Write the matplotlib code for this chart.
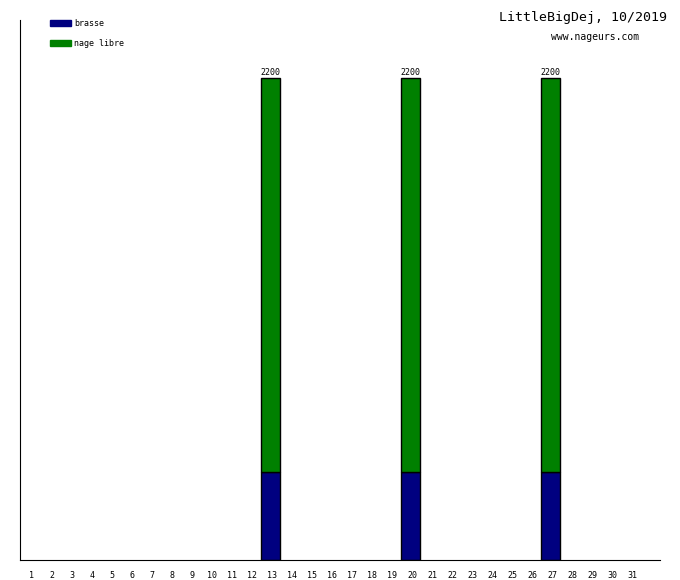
import matplotlib
matplotlib.use('Agg')
import matplotlib.pyplot as plt
from matplotlib.patches import Rectangle

days = list(range(1, 32))
brasse = {13: 400, 20: 400, 27: 400}
nage_libre = {13: 1800, 20: 1800, 27: 1800}
series_names = ['brasse', 'nage libre']
colors = ['#000080', '#008000']
title = 'LittleBigDej, 10/2019'
site = 'www.nageurs.com'

W, H = 680, 580
fig = plt.figure(figsize=(W / 100, H / 100), dpi=100)
mono = 'DejaVu Sans Mono'

ax = fig.add_axes([20 / W, 20 / H, 640 / W, 540 / H])
active = [d for d in days if brasse.get(d, 0) + nage_libre.get(d, 0) > 0]
b = [brasse.get(d, 0) for d in active]
n = [nage_libre.get(d, 0) for d in active]
left = [d - 0.55 for d in active]
ax.bar(left, b, width=0.95, align='edge', color=colors[0], edgecolor='black', linewidth=1)
ax.bar(left, n, width=0.95, align='edge', bottom=b, color=colors[1],
       edgecolor='black', linewidth=1)
for d, lo, hi in zip(active, b, n):
    ax.text(d - 0.07, lo + hi + 3, str(lo + hi), ha='center', va='bottom',
            fontsize=6, family=mono)

ax.set_xlim(0.4, 32.4)
ax.set_ylim(0, 2465)
ax.spines['top'].set_visible(False)
ax.spines['right'].set_visible(False)
ax.set_yticks([])
ax.set_xticks(days)
ax.set_xticklabels([str(d) for d in days], fontsize=6, family=mono)
ax.tick_params(axis='x', length=0, pad=8)

fig.text(667 / W, 1 - 18 / H, title, ha='right', va='center', fontsize=9.5, family=mono)
fig.text(595 / W, 1 - 37 / H, site, ha='center', va='center', fontsize=7, family=mono)

for i, (name, c) in enumerate(zip(series_names, colors)):
    y = 20 + 20 * i
    fig.patches.append(Rectangle((50 / W, 1 - (y + 6) / H), 21 / W, 6 / H,
                                 transform=fig.transFigure, color=c))
    fig.text(74 / W, 1 - (y + 3) / H, name, ha='left', va='center', fontsize=6, family=mono)

fig.savefig('out.png', dpi=100)
